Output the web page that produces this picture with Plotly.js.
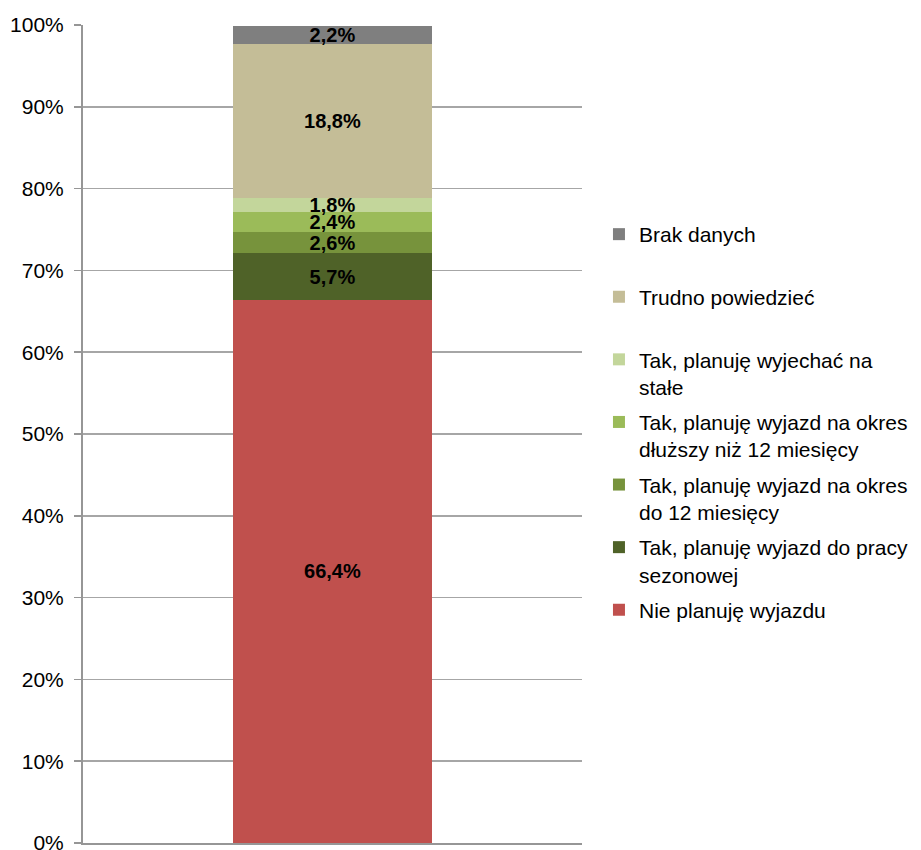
<!DOCTYPE html>
<html>
<head>
<meta charset="utf-8">
<script src="https://cdn.plot.ly/plotly-3.0.1.min.js"></script>
<style>html,body{margin:0;padding:0;background:#fff;}#chart{width:921px;height:850px;}</style>
</head>
<body>
<div id="chart"></div>
<script>
const categories = ['Ogółem'];
const seriesNames = [
  'Nie planuję wyjazdu',
  'Tak, planuję wyjazd do pracy<br>sezonowej',
  'Tak, planuję wyjazd na okres<br>do 12 miesięcy',
  'Tak, planuję wyjazd na okres<br>dłuższy niż 12 miesięcy',
  'Tak, planuję wyjechać na<br>stałe',
  'Trudno powiedzieć<br> ',
  'Brak danych<br> '
];
const seriesValues = [66.4, 5.7, 2.6, 2.4, 1.8, 18.8, 2.2];
const seriesLabels = ['66,4%', '5,7%', '2,6%', '2,4%', '1,8%', '18,8%', '2,2%'];
const yTickVals = [0,10,20,30,40,50,60,70,80,90,100];
const yTickText = ['0%','10%','20%','30%','40%','50%','60%','70%','80%','90%','100%'];

const colors = ['#C0504D','#4F6228','#77933C','#9BBB59','#C3D69B','#C4BD97','#7F7F7F'];

const traces = seriesNames.map((name, i) => ({
  type: 'bar',
  x: categories,
  y: [seriesValues[i]],
  name: name,
  legendgroup: 'g' + i,
  legendrank: 100 * (seriesNames.length - i),
  marker: {color: colors[i], line: {width: 0}},
  text: [seriesLabels[i]],
  textposition: 'inside',
  insidetextanchor: 'middle',
  textangle: 0,
  constraintext: 'none',
  textfont: {family: 'Arial, Liberation Sans, sans-serif', size: 20, color: '#000000', weight: 'bold'},
  hoverinfo: 'skip',
  cliponaxis: false
}));

const layout = {
  width: 921,
  height: 850,
  paper_bgcolor: '#ffffff',
  plot_bgcolor: '#ffffff',
  barmode: 'stack',
  bargap: 0.6,
  margin: {l: 83, r: 339, t: 25, b: 7, autoexpand: false},
  font: {family: 'Arial, Liberation Sans, sans-serif', size: 21, color: '#000000'},
  xaxis: {
    showticklabels: false,
    ticks: '',
    showgrid: false,
    showline: true,
    linecolor: '#969696',
    linewidth: 2,
    zeroline: false
  },
  yaxis: {
    range: [0, 100],
    tickvals: yTickVals,
    ticktext: yTickText,
    ticks: 'outside',
    ticklen: 7,
    tickcolor: '#969696',
    tickwidth: 1.5,
    showline: true,
    linecolor: '#969696',
    linewidth: 2,
    showgrid: true,
    gridcolor: '#A6A6A6',
    gridwidth: 1.5,
    zeroline: false,
    tickfont: {size: 21, color: '#000000'},
    ticklabelstandoff: 6,
    ticklabeloverflow: 'allow'
  },
  legend: {
    traceorder: 'grouped',
    x: 1.034,
    xanchor: 'left',
    xref: 'paper',
    y: 1 - (214 - 25) / 818,
    yanchor: 'top',
    yref: 'paper',
    valign: 'top',
    tracegroupgap: 5,
    font: {size: 21, color: '#000000'},
    bgcolor: 'rgba(0,0,0,0)',
    itemclick: false
  },
  showlegend: true
};

Plotly.newPlot('chart', traces, layout, {displayModeBar: false, staticPlot: true});
</script>
</body>
</html>
